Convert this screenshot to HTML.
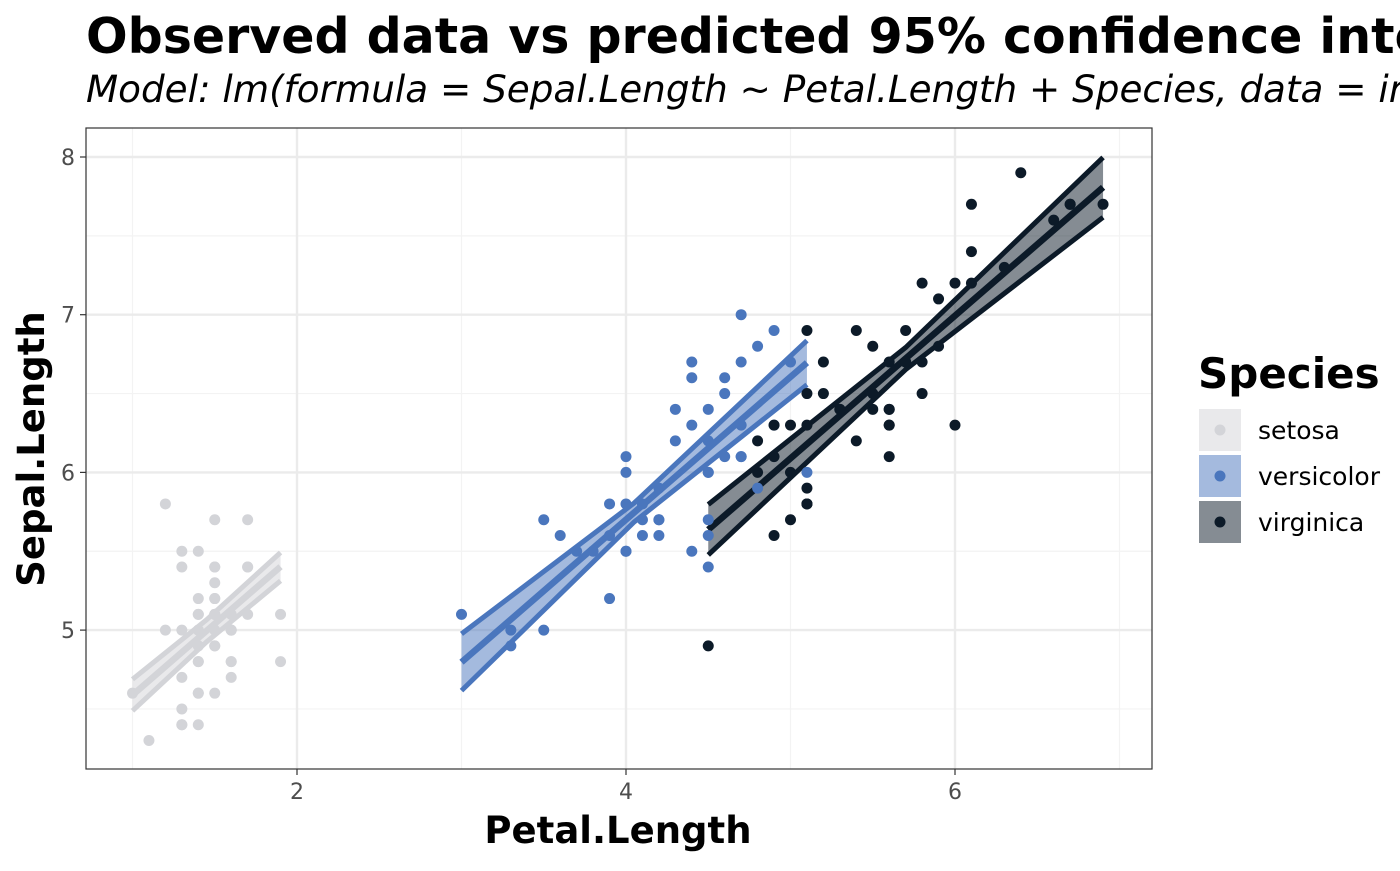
<!DOCTYPE html>
<html><head><meta charset="utf-8"><style>
body{margin:0;background:#fff;width:1400px;height:866px;overflow:hidden;font-family:"Liberation Sans","DejaVu Sans",sans-serif}
svg text{font-family:"DejaVu Sans","Liberation Sans",sans-serif}
</style></head><body>
<svg id="chart" width="1400" height="866">
<text x="86" y="53" font-size="49" font-weight="bold" fill="#000">Observed data vs predicted 95% confidence intervals</text>
<text x="86" y="102" font-size="37.3" font-style="italic" fill="#000">Model: lm(formula = Sepal.Length ~ Petal.Length + Species, data = iris)</text>
<g id="grid"></g>
<g id="bands"></g>
<g id="points"></g>
<rect x="86" y="128" width="1066" height="641" fill="none" stroke="#333" stroke-width="1.2"/>
<g id="axes"></g>
<text x="618" y="843" font-size="37" font-weight="bold" text-anchor="middle">Petal.Length</text>
<text transform="translate(44,449) rotate(-90)" font-size="37" font-weight="bold" text-anchor="middle">Sepal.Length</text>
<g id="legend">
<text x="1198" y="388" font-size="42" font-weight="bold">Species</text>
</g>
</svg>
<script>
const species=["setosa","versicolor","virginica"];
const colors=["#d3d4d8","#4a76bd","#0c1a28"];
const petalSetosa=[1.4,1.4,1.3,1.5,1.4,1.7,1.4,1.5,1.4,1.5,1.5,1.6,1.4,1.1,1.2,1.5,1.3,1.4,1.7,1.5,1.7,1.5,1.0,1.7,1.9,1.6,1.6,1.5,1.4,1.6,1.6,1.5,1.5,1.4,1.5,1.2,1.3,1.4,1.3,1.5,1.3,1.3,1.3,1.6,1.9,1.4,1.6,1.4,1.5,1.4];
const sepalSetosa=[5.1,4.9,4.7,4.6,5.0,5.4,4.6,5.0,4.4,4.9,5.4,4.8,4.8,4.3,5.8,5.7,5.4,5.1,5.7,5.1,5.4,5.1,4.6,5.1,4.8,5.0,5.0,5.2,5.2,4.7,4.8,5.4,5.2,5.5,4.9,5.0,5.5,4.9,4.4,5.1,5.0,4.5,4.4,5.0,5.1,4.8,5.1,4.6,5.3,5.0];
const petalVersicolor=[4.7,4.5,4.9,4.0,4.6,4.5,4.7,3.3,4.6,3.9,3.5,4.2,4.0,4.7,3.6,4.4,4.5,4.1,4.5,3.9,4.8,4.0,4.9,4.7,4.3,4.4,4.8,5.0,4.5,3.5,3.8,3.7,3.9,5.1,4.5,4.5,4.7,4.4,4.1,4.0,4.4,4.6,4.0,3.3,4.2,4.2,4.2,4.3,3.0,4.1];
const sepalVersicolor=[7.0,6.4,6.9,5.5,6.5,5.7,6.3,4.9,6.6,5.2,5.0,5.9,6.0,6.1,5.6,6.7,5.6,5.8,6.2,5.6,5.9,6.1,6.3,6.1,6.4,6.6,6.8,6.7,6.0,5.7,5.5,5.5,5.8,6.0,5.4,6.0,6.7,6.3,5.6,5.5,5.5,6.1,5.8,5.0,5.6,5.7,5.7,6.2,5.1,5.7];
const petalVirginica=[6.0,5.1,5.9,5.6,5.8,6.6,4.5,6.3,5.8,6.1,5.1,5.3,5.5,5.0,5.1,5.3,5.5,6.7,6.9,5.0,5.7,4.9,6.7,4.9,5.7,6.0,4.8,4.9,5.6,5.8,6.1,6.4,5.6,5.1,5.6,6.1,5.6,5.5,4.8,5.4,5.6,5.1,5.1,5.9,5.7,5.2,5.0,5.2,5.4,5.1];
const sepalVirginica=[6.3,5.8,7.1,6.3,6.5,7.6,4.9,7.3,6.7,7.2,6.5,6.4,6.8,5.7,5.8,6.4,6.5,7.7,7.7,6.0,6.9,5.6,7.7,6.3,6.7,7.2,6.2,6.1,6.4,7.2,7.4,7.9,6.4,6.3,6.1,7.7,6.3,6.4,6.0,6.9,6.7,6.9,5.8,6.8,6.7,6.7,6.3,6.5,6.2,5.9];
const intercepts=[3.6835,2.0825,1.5658];
const slope=0.9046;
const ciHalfSetosa=[0.10,0.07,0.09];
const ciHalfVersicolor=[0.18,0.06,0.14];
const ciHalfVirginica=[0.16,0.07,0.19];
const xTicks=[2,4,6];
const yTicks=[5,6,7,8];
const xMinor=[1,3,5,7];
const yMinor=[4.5,5.5,6.5,7.5];

const X=v=>-32+164.5*v;
const Y=v=>157+(8-v)*157.7;
const NS="http://www.w3.org/2000/svg";
function mk(tag,attrs,parent){const e=document.createElementNS(NS,tag);for(const k in attrs)e.setAttribute(k,attrs[k]);parent.appendChild(e);return e;}
const grid=document.getElementById('grid'),axes=document.getElementById('axes');
mk('rect',{x:86,y:128,width:1066,height:641,fill:'#fff'},grid);
xMinor.forEach(v=>{const l=mk('line',{x1:X(v),x2:X(v),y1:128,y2:769,stroke:'#f3f3f3','stroke-width':1.2},grid);

});
yMinor.forEach(v=>{const l=mk('line',{x1:86,x2:1152,y1:Y(v),y2:Y(v),stroke:'#f3f3f3','stroke-width':1.2},grid);

});
xTicks.forEach(v=>{const l=mk('line',{x1:X(v),x2:X(v),y1:128,y2:769,stroke:'#ebebeb','stroke-width':2.4},grid);


mk('line',{x1:X(v),x2:X(v),y1:769,y2:775,stroke:'#333','stroke-width':1.2},axes);
const t=mk('text',{x:X(v),y:799,'font-size':22,fill:'#4d4d4d','text-anchor':'middle'},axes);t.textContent=v;

});
yTicks.forEach(v=>{const l=mk('line',{x1:86,x2:1152,y1:Y(v),y2:Y(v),stroke:'#ebebeb','stroke-width':2.4},grid);


mk('line',{x1:80,x2:86,y1:Y(v),y2:Y(v),stroke:'#333','stroke-width':1.2},axes);
const t=mk('text',{x:75,y:Y(v)+8,'font-size':22,fill:'#4d4d4d','text-anchor':'end'},axes);t.textContent=v;

});

const petals=[petalSetosa,petalVersicolor,petalVirginica];
const sepals=[sepalSetosa,sepalVersicolor,sepalVirginica];
const cis=[ciHalfSetosa,ciHalfVersicolor,ciHalfVirginica];
const bands=document.getElementById('bands'),pts=document.getElementById('points');
species.forEach((s,i)=>{
  const lo=Math.min(...petals[i]),hi=Math.max(...petals[i]);
  const xs=[lo,(lo+hi)/2,hi];
  const fit=xs.map(x=>intercepts[i]+slope*x);
  const up=xs.map((x,k)=>[X(x),Y(fit[k]+cis[i][k])]);
  const dn=xs.map((x,k)=>[X(x),Y(fit[k]-cis[i][k])]);
  const g=mk('g',{},bands);
  
  
  const poly=up.concat(dn.slice().reverse()).map(p=>p.join(',')).join(' ');
  const r=mk('polygon',{points:poly,fill:colors[i],'fill-opacity':0.5},g);
  
  
  [up,dn].forEach((arr,j)=>{const l=mk('polyline',{points:arr.map(p=>p.join(',')).join(' '),fill:'none',stroke:colors[i],'stroke-width':5},g);
    
    });
  const f=mk('line',{x1:X(lo),y1:Y(fit[0]),x2:X(hi),y2:Y(fit[2]),stroke:colors[i],'stroke-width':6.5},g);
  
  
  petals[i].forEach((x,k)=>{const c=mk('circle',{cx:X(x),cy:Y(sepals[i][k]),r:5.5,fill:colors[i]},pts);
    
    });
  const lg=document.getElementById('legend');
  const ky=409+i*46;
  const kr=mk('rect',{x:1199,y:ky,width:42,height:42,fill:colors[i],'fill-opacity':0.5},lg);
  
  
  mk('circle',{cx:1220,cy:ky+21,r:5.5,fill:colors[i]},lg);
  const lt=mk('text',{x:1258,y:ky+30,'font-size':25,fill:'#000'},lg);lt.textContent=s;
  
  
});
</script>
</body></html>
